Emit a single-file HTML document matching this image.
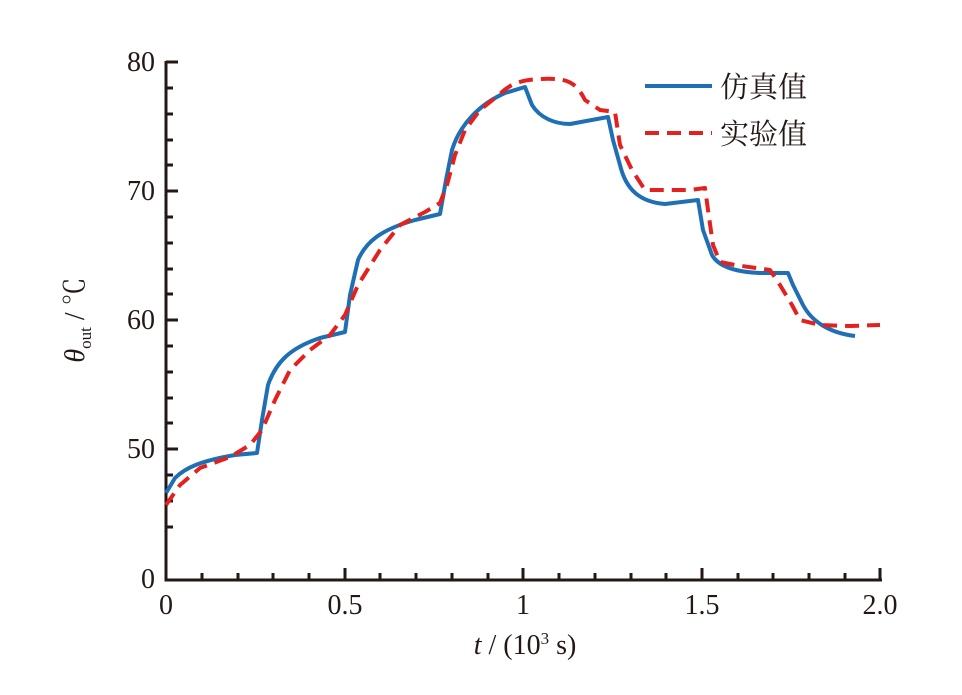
<!DOCTYPE html>
<html><head><meta charset="utf-8"><style>body{margin:0;background:#fff}</style></head><body>
<svg width="962" height="690" xmlns="http://www.w3.org/2000/svg" font-family="Liberation Serif, Noto Serif CJK SC, serif">
<g stroke="#231815" stroke-width="3" fill="none">
<path d="M166,61 V580 H882"/>
<path d="M166,62 h12 M166,191 h12 M166,320 h12 M166,449 h12 M166,88 h7 M166,114 h7 M166,140 h7 M166,165 h7 M166,217 h7 M166,243 h7 M166,269 h7 M166,294 h7 M166,346 h7 M166,372 h7 M166,398 h7 M166,423 h7 M166,475 h7 M166,501 h7 M166,527 h7"/>
<path d="M345,580 v-12 M523,580 v-12 M702,580 v-12 M880,580 v-12 M202,580 v-7 M238,580 v-7 M273,580 v-7 M309,580 v-7 M380,580 v-7 M416,580 v-7 M452,580 v-7 M488,580 v-7 M559,580 v-7 M595,580 v-7 M631,580 v-7 M666,580 v-7 M738,580 v-7 M773,580 v-7 M809,580 v-7 M845,580 v-7"/>
</g>
<g font-size="28" fill="#231815" text-anchor="end">
<text x="155" y="71">80</text><text x="155" y="200">70</text><text x="155" y="329">60</text><text x="155" y="458">50</text><text x="155" y="588">0</text>
</g>
<g font-size="28" fill="#231815" text-anchor="middle">
<text x="166" y="614">0</text><text x="345" y="614">0.5</text><text x="523" y="614">1</text><text x="702" y="614">1.5</text><text x="880" y="614">2.0</text>
<text x="525" y="654"><tspan font-style="italic">t</tspan> / (10<tspan font-size="17" dy="-10">3</tspan><tspan dy="10"> s)</tspan></text>
</g>
<text transform="translate(84,320) rotate(-90)" font-size="28" fill="#231815" text-anchor="middle"><tspan font-style="italic">θ</tspan><tspan font-size="17" dy="7">out</tspan><tspan dy="-7"> / ℃</tspan></text>
<path fill="none" stroke="#1f6fb5" stroke-width="4" stroke-linejoin="round" d="M166,493 L175,478 C185,468 200,461 235,455 L257,453 L262,420 L268,385 C276,362 290,348 320,338 L345,332 L350,295 L358,260 C366,242 380,230 415,220 L440,214 L446,180 L452,150 C460,124 480,104 505,93 L525,87 L532,105 C540,118 555,124 570,124 L608,117 L613,140 L620,165 C626,190 640,202 665,204 L698,200 L703,230 L712,255 C718,266 735,272 760,273 L788,273 L793,285 L803,305 C812,322 830,333 855,336"/>
<path fill="none" stroke="#e3211f" stroke-width="4" stroke-dasharray="14,8" stroke-linejoin="round" d="M166,505 L180,485 L200,468 L230,457 L250,445 L262,430 L275,400 L290,370 L310,350 L330,335 L345,315 L358,285 L380,250 L400,225 L425,212 L440,203 L447,185 L455,155 L465,130 L480,110 L500,94 C510,84 520,80 540,79 C565,78 575,80 585,100 L600,110 L615,112 L620,145 L632,170 L645,190 L690,190 L705,188 L708,210 L713,245 L720,262 L735,265 L770,270 L780,285 L792,305 L800,320 L820,325 L850,326 L880,325"/>
<line x1="645" y1="86" x2="712" y2="86" stroke="#1f6fb5" stroke-width="4"/>
<line x1="645" y1="133" x2="712" y2="133" stroke="#e3211f" stroke-width="4" stroke-dasharray="14,8"/>
<g font-size="29" fill="#231815" font-family="Noto Serif CJK SC, serif">
<text x="720" y="97">仿真值</text><text x="720" y="144">实验值</text>
</g>
</svg>
</body></html>
